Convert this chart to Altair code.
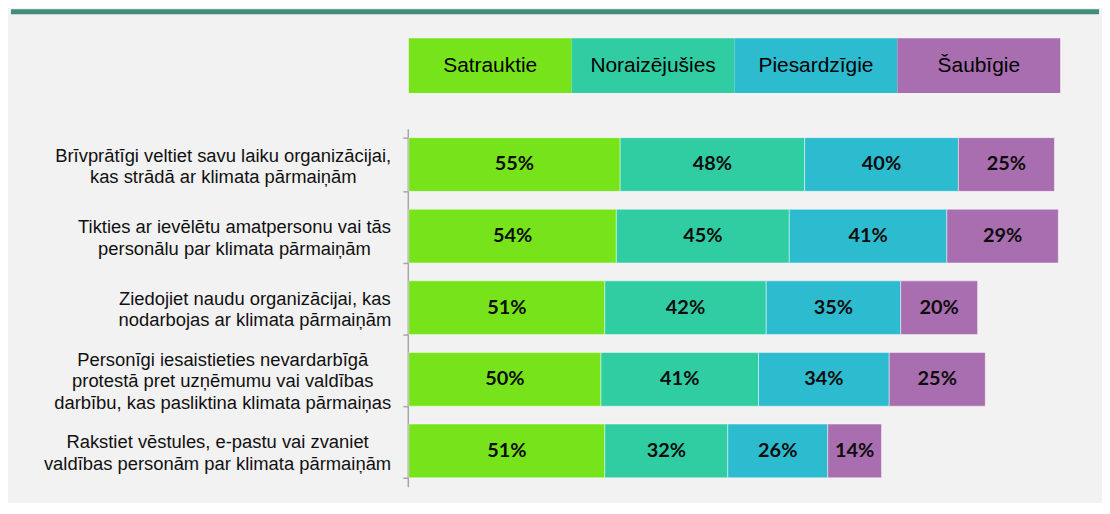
import altair as alt
import pandas as pd

# ---- data ----
actions = [
    "Brīvprātīgi veltiet savu laiku organizācijai,|kas strādā ar klimata pārmaiņām",
    "Tikties ar ievēlētu amatpersonu vai tās|personālu par klimata pārmaiņām",
    "Ziedojiet naudu organizācijai, kas|nodarbojas ar klimata pārmaiņām",
    "Personīgi iesaistieties nevardarbīgā|protestā pret uzņēmumu vai valdības|darbību, kas pasliktina klimata pārmaiņas",
    "Rakstiet vēstules, e-pastu vai zvaniet|valdības personām par klimata pārmaiņām",
]
segments = ["Satrauktie", "Noraizējušies", "Piesardzīgie", "Šaubīgie"]
satrauktie = [55, 54, 51, 50, 51]
noraizejusies = [48, 45, 42, 41, 32]
piesardzigie = [40, 41, 35, 34, 26]
saubigie = [25, 29, 20, 25, 14]

colors = ["#77e31a", "#30cda3", "#2dbbcf", "#a96eaf"]

series = [satrauktie, noraizejusies, piesardzigie, saubigie]
rows = []
for si, (seg, vals) in enumerate(zip(segments, series)):
    for a, v in zip(actions, vals):
        rows.append({"action": a, "segment": seg, "seg_idx": si, "value": v})
df = pd.DataFrame(rows)
leg_df = pd.DataFrame({"segment": segments})

# ---- approximate Arial/Liberation Sans text widths to centre multi-line labels ----
W = {c: 556 for c in "abdeghnopquāēūņ"}
W.update({c: 500 for c in "cksvxyzš"})
W.update({"f": 278, "t": 278, "ī": 278, "i": 222, "j": 222, "l": 222, "r": 333,
          "m": 833, "w": 722, " ": 278, ",": 278, "-": 333,
          "B": 667, "T": 611, "Z": 611, "P": 667, "R": 722})
LABEL_FS = 18.5
LINE_H = 21.5


def text_w(s):
    return sum(W.get(ch, 556) for ch in s) * LABEL_FS / 1000.0


def quoted(s):
    return '"' + s + '"'


GAP = 12
pads = [GAP + max(text_w(line) for line in a.split("|")) / 2 for a in actions]
offs = [-(len(a.split("|")) - 1) * LINE_H / 2 + 1.5 for a in actions]

label_pad = {
    "condition": [
        {"test": "datum.value === " + quoted(a), "value": round(p, 1)}
        for a, p in zip(actions[:-1], pads[:-1])
    ],
    "value": round(pads[-1], 1),
}
label_off = {
    "condition": [
        {"test": "datum.value === " + quoted(a), "value": round(o, 2)}
        for a, o in zip(actions[:-1], offs[:-1])
    ],
    "value": round(offs[-1], 2),
}

color_scale = alt.Scale(domain=segments, range=colors)

# ---- legend panel ----
band_rule = alt.Chart(pd.DataFrame({"k": [0]})).mark_rule(
    color="#418c7c", strokeWidth=5
).encode(x=alt.value(-400), x2=alt.value(694), y=alt.value(-26.5))

leg_x = alt.X("segment:N", sort=segments,
              scale=alt.Scale(paddingInner=0, paddingOuter=0), axis=None)
legend_rect = alt.Chart(leg_df).mark_rect().encode(
    x=leg_x, color=alt.Color("segment:N", scale=color_scale, legend=None)
)
legend_text = alt.Chart(leg_df).mark_text(
    font="Liberation Sans", fontSize=21, color="#000000", baseline="middle"
).encode(x=leg_x, text="segment:N")

legend = alt.layer(band_rule, legend_rect, legend_text).properties(width=655, height=55)

# ---- bar panel ----
base = alt.Chart(df).transform_stack(
    stack="value", groupby=["action"],
    sort=[alt.SortField(field="seg_idx", order="ascending")],
    as_=["x0", "x1"],
).transform_calculate(
    mid="(datum.x0 + datum.x1) / 2", label="datum.value + '%'"
)

y_enc = alt.Y(
    "action:N", sort=actions, title=None,
    scale=alt.Scale(paddingInner=0.25, paddingOuter=0.125),
    axis=alt.Axis(
        labelExpr="split(datum.label, '|')",
        labelFont="Liberation Sans", labelFontSize=LABEL_FS, labelColor="#111111",
        labelAlign="center", labelBaseline="middle", labelLineHeight=LINE_H,
        labelPadding=label_pad, labelOffset=label_off, labelLimit=0,
        domainColor="#a6a6a6", domainWidth=1.5,
        tickColor="#a6a6a6", tickWidth=1.5, tickSize=5, tickBand="extent",
        offset=1, grid=False,
    ),
)

bars = base.mark_bar(stroke="#ffffff", strokeWidth=1, strokeOpacity=0.45).encode(
    y=y_enc,
    x=alt.X("x0:Q", scale=alt.Scale(domain=[0, 169.5], nice=False, zero=True), axis=None),
    x2="x1:Q",
    color=alt.Color("segment:N", scale=color_scale, legend=None),
)
labels = base.mark_text(
    font="Lato", fontWeight="bold", fontSize=20, color="#0d0d0d", baseline="middle"
).encode(y=alt.Y("action:N", sort=actions), x="mid:Q", text="label:N")

bar_panel = alt.layer(bars, labels).properties(width=655, height=360)

chart = alt.vconcat(legend, bar_panel, spacing=36, bounds="flush").properties(
    padding={"left": 0, "top": 0, "right": 0, "bottom": 15},
    background="#f2f2f2",
).configure_view(stroke=None)

chart.save("out.html", embed_options={"renderer": "svg", "actions": False})
